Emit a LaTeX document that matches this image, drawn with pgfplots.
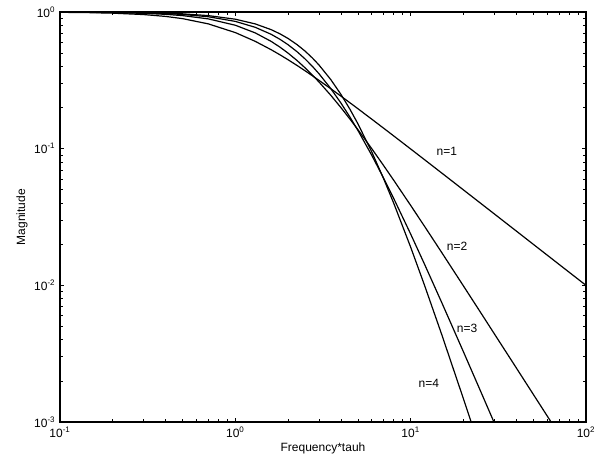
\documentclass[border=0pt]{standalone}
\usepackage{fontspec}
\setmainfont{Liberation Sans}
\usepackage{pgfplots}
\pgfplotsset{compat=1.18}

\begin{document}
\begin{tikzpicture}
\begin{loglogaxis}[
    scale only axis,
    width=394.5pt, height=307.5pt,
    xmin=0.1, xmax=100, ymin=0.001, ymax=1,
    log basis x=10, log basis y=10,
    font=\fontsize{9}{11}\selectfont,
    xticklabel={10\textsuperscript{\pgfmathparse{int(round(\tick))}\pgfmathresult}},
    yticklabel={10\textsuperscript{\pgfmathparse{int(round(\tick))}\pgfmathresult}},
    xlabel={Frequency*tauh},
    ylabel={Magnitude},
    xlabel style={yshift=3pt},
    ylabel style={yshift=-2pt},
    tick align=inside,
    major tick length=3pt, minor tick length=2pt,
    axis line style={line width=0.9pt},
    every tick/.style={black, line width=0.5pt},
]
% n=1
\addplot[black, line width=0.9pt] coordinates {
(0.1,0.99504) (0.15,0.98894) (0.2,0.98058) (0.3,0.95783) (0.4,0.92848)
(0.5,0.89443) (0.7,0.81923) (1,0.70711) (1.3,0.60971) (1.6,0.53000)
(1.8,0.48564) (2,0.44721) (2.25,0.40614) (2.5,0.37139) (2.75,0.34174)
(3,0.31623) (3.5,0.27472) (4,0.24254) (4.5,0.21693) (5,0.19612)
(6,0.16440) (7,0.14142) (8,0.12403) (10,0.09950) (12,0.08305)
(15,0.06652) (20,0.04994) (25,0.03997) (30,0.03331) (40,0.02499)
(50,0.01999) (60,0.01666) (70,0.01428) (100,0.0099995)
};
% n=2
\addplot[black, line width=0.9pt] coordinates {
(0.1,0.99751) (0.15,0.99441) (0.2,0.99010) (0.3,0.97800) (0.4,0.96154)
(0.5,0.94118) (0.7,0.89087) (1,0.8) (1.3,0.70299) (1.6,0.60976)
(1.8,0.55249) (2,0.5) (2.25,0.44138) (2.5,0.39024) (2.75,0.34595)
(3,0.30769) (3.5,0.24615) (4,0.2) (4.5,0.16495) (5,0.13793)
(6,0.1) (7,0.07547) (8,0.05882) (10,0.03846) (12,0.02703)
(15,0.01747) (20,0.00990) (25,0.00636) (30,0.00442) (40,0.002494)
(50,0.001597) (60,0.001110) (70,0.000816)
};
% n=3
\addplot[black, line width=0.9pt] coordinates {
(0.1,0.99834) (0.15,0.99626) (0.2,0.99337) (0.3,0.98519) (0.4,0.97391)
(0.5,0.95973) (0.7,0.92356) (1,0.85381) (1.3,0.77252) (1.6,0.68698)
(1.8,0.63051) (2,0.57604) (2.25,0.512) (2.5,0.45337) (2.75,0.40055)
(3,0.35355) (3.5,0.27563) (4,0.21600) (4.5,0.17067) (5,0.13617)
(6,0.08944) (7,0.06112) (8,0.04330) (10,0.02373) (12,0.014267)
(15,0.007543) (20,0.003264) (25,0.001691) (30,0.000985) (35,0.000623)
};
% n=4
\addplot[black, line width=0.9pt] coordinates {
(0.1,0.99875) (0.15,0.99719) (0.2,0.99502) (0.3,0.98884) (0.4,0.98030)
(0.5,0.96947) (0.7,0.94145) (1,0.88581) (1.3,0.81806) (1.6,0.74316)
(1.8,0.69156) (2,0.64) (2.25,0.57706) (2.5,0.51711) (2.75,0.46111)
(3,0.40960) (3.5,0.32078) (4,0.25) (4.5,0.19482) (5,0.15229)
(6,0.09467) (7,0.06059) (8,0.04) (10,0.019025) (12,0.01)
(15,0.004408) (20,0.001479) (25,0.000623)
};
\node at (axis cs:16.1,0.096) {n=1};
\node at (axis cs:18.4,0.0194) {n=2};
\node at (axis cs:21.0,0.00488) {n=3};
\node at (axis cs:12.7,0.00193) {n=4};
\end{loglogaxis}
\path ([shift={(-45pt,-32.25pt)}]current axis.south west) rectangle ([shift={(15.75pt,9pt)}]current axis.north east);
\end{tikzpicture}
\end{document}
